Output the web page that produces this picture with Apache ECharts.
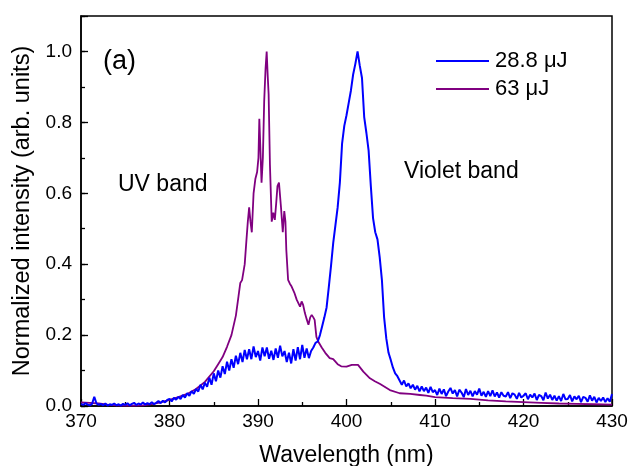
<!DOCTYPE html>
<html>
<head>
<meta charset="utf-8">
<script src="https://cdn.jsdelivr.net/npm/echarts@6/dist/echarts.min.js"></script>
<style>
html,body{margin:0;padding:0;background:#fff;}
#chart{width:631px;height:466px;}
</style>
</head>
<body>
<div id="chart"></div>
<script>
// ---- Data ----
var seriesNames = ['28.8 \u03bcJ', '63 \u03bcJ'];
var xTickLabels = [370, 380, 390, 400, 410, 420, 430];
var yTickLabels = [0.0, 0.2, 0.4, 0.6, 0.8, 1.0];

// 28.8 uJ spectrum, sampled every 0.25 nm from 370 nm
var wl288Start = 370, wl288Step = 0.25;
var int288 = [
  0.006, 0.003, 0.008, 0.004,
  0.002, 0.006, 0.026, 0.007,
  0.003, 0.006, 0.002, 0.007,
  0.001, 0.005, 0.003, 0.007,
  0.002, 0.005, 0.001, 0.006,
  0.003, 0.008, 0.002, 0.006,
  0.009, 0.003, 0.007, 0.004,
  0.010, 0.004, 0.008, 0.005,
  0.011, 0.005, 0.009, 0.014,
  0.008, 0.015, 0.010, 0.017,
  0.020, 0.013, 0.023, 0.018,
  0.026, 0.020, 0.031, 0.024,
  0.036, 0.029, 0.042, 0.034,
  0.048, 0.041, 0.060, 0.047,
  0.066, 0.054, 0.080, 0.060,
  0.092, 0.070, 0.100, 0.080,
  0.112, 0.090, 0.125, 0.100,
  0.132, 0.108, 0.142, 0.118,
  0.150, 0.124, 0.158, 0.132,
  0.160, 0.132, 0.168, 0.138,
  0.155, 0.128, 0.165, 0.140,
  0.165, 0.133, 0.156, 0.130,
  0.162, 0.136, 0.170, 0.140,
  0.155, 0.124, 0.150, 0.120,
  0.160, 0.128, 0.166, 0.132,
  0.172, 0.136, 0.162, 0.135,
  0.155, 0.165, 0.178, 0.182,
  0.200, 0.225, 0.250, 0.278,
  0.335, 0.395, 0.460, 0.510,
  0.560, 0.630, 0.740, 0.790,
  0.820, 0.855, 0.890, 0.935,
  0.965, 1.000, 0.960, 0.925,
  0.815, 0.770, 0.720, 0.620,
  0.530, 0.490, 0.470, 0.420,
  0.356, 0.250, 0.190, 0.150,
  0.130, 0.108, 0.092, 0.084,
  0.072, 0.060, 0.072, 0.055,
  0.064, 0.050, 0.060, 0.046,
  0.057, 0.041, 0.055, 0.042,
  0.052, 0.037, 0.054, 0.039,
  0.045, 0.031, 0.049, 0.034,
  0.047, 0.028, 0.041, 0.051,
  0.035, 0.045, 0.027, 0.046,
  0.038, 0.025, 0.048, 0.031,
  0.043, 0.027, 0.042, 0.032,
  0.049, 0.029, 0.040, 0.026,
  0.042, 0.028, 0.044, 0.027,
  0.038, 0.024, 0.039, 0.029,
  0.027, 0.039, 0.022, 0.036,
  0.032, 0.020, 0.037, 0.024,
  0.029, 0.036, 0.019, 0.032,
  0.024, 0.035, 0.017, 0.031,
  0.028, 0.016, 0.038, 0.021,
  0.032, 0.017, 0.029, 0.015,
  0.028, 0.014, 0.034, 0.019,
  0.020, 0.031, 0.013, 0.027,
  0.019, 0.029, 0.011, 0.026,
  0.023, 0.012, 0.030, 0.015,
  0.026, 0.010, 0.023, 0.014,
  0.024, 0.011, 0.022, 0.012,
  0.034
];

// 63 uJ spectrum (wavelength, intensity)
var wl63 = [370, 371, 372, 373, 374, 375, 376, 377, 378, 379, 380, 381, 382, 383, 384, 385, 385.5, 386, 386.5, 387,
  387.5, 387.8, 388, 388.2, 388.5, 388.7, 388.85, 389.0, 389.15, 389.3, 389.5, 389.7, 389.9, 390.05, 390.15, 390.25,
  390.4, 390.55, 390.7, 390.85, 390.98, 391.1, 391.2, 391.35, 391.55, 391.73, 391.9, 392.05, 392.2, 392.37, 392.6,
  392.8, 392.97, 393.1, 393.2, 393.4, 393.6, 393.8, 394.1, 394.37, 394.75, 394.93, 395.1, 395.3, 395.5, 395.7, 395.9,
  396.07, 396.25, 396.4, 396.6, 396.8, 397.2, 397.6, 398.1, 398.5, 399, 399.4, 400, 400.6, 401.3, 401.9, 402.65,
  403.2, 403.8, 404.9, 406, 407.2, 408.3, 409, 410, 412, 414, 416, 418, 420, 422, 424, 426, 428, 430];
var int63 = [0.010, 0.009, 0.007, 0.004, 0.002, 0.001, 0.001, 0.002, 0.005, 0.010, 0.017, 0.025, 0.034, 0.048, 0.068, 0.098, 0.118, 0.138, 0.167, 0.200,
  0.255, 0.31, 0.347, 0.355, 0.40, 0.47, 0.52, 0.56, 0.52, 0.49, 0.60, 0.64, 0.66, 0.70, 0.81, 0.74,
  0.63, 0.70, 0.86, 0.95, 1.00, 0.93, 0.88, 0.68, 0.52, 0.545, 0.525, 0.57, 0.62, 0.63, 0.56,
  0.49, 0.55, 0.52, 0.44, 0.356, 0.345, 0.337, 0.32, 0.30, 0.28, 0.295, 0.285, 0.262, 0.245, 0.229, 0.25,
  0.257, 0.25, 0.243, 0.195, 0.182, 0.165, 0.15, 0.135, 0.132, 0.118, 0.112, 0.111, 0.116, 0.116, 0.097, 0.078,
  0.070, 0.062, 0.045, 0.036, 0.034, 0.031, 0.029, 0.025, 0.022, 0.020, 0.016, 0.013, 0.011, 0.009, 0.007, 0.006, 0.005, 0.004];

// ---- Build ----
var data288 = int288.map(function (v, i) { return [wl288Start + i * wl288Step, v]; });
var data63 = wl63.map(function (w, i) { return [w, int63[i]]; });

var FONT = '"Liberation Sans", Arial, sans-serif';
var chart = echarts.init(document.getElementById('chart'), null, {renderer: 'canvas'});
chart.setOption({
  animation: false,
  backgroundColor: '#fff',
  grid: {left: 81, right: 19, top: 16, bottom: 60, show: true, borderColor: '#000', borderWidth: 1.5,
    backgroundColor: 'transparent', containLabel: false, outerBoundsMode: 'none'},
  legend: {
    data: seriesNames,
    orient: 'vertical',
    left: 431, top: 45,
    itemWidth: 53, itemHeight: 2, itemGap: 6,
    textStyle: {fontFamily: FONT, fontSize: 22, color: '#000', padding: [0, 0, 0, 1]},
    icon: 'rect'
  },
  xAxis: {
    type: 'value', min: xTickLabels[0], max: xTickLabels[xTickLabels.length - 1], interval: 10,
    name: 'Wavelength (nm)', nameLocation: 'middle', nameGap: 38,
    nameTextStyle: {fontFamily: FONT, fontSize: 23, color: '#000'},
    axisLine: {lineStyle: {color: '#000', width: 1.5}},
    axisTick: {inside: true, length: 7, lineStyle: {color: '#000', width: 1.3}},
    minorTick: {show: true, splitNumber: 2, length: 4, lineStyle: {color: '#000', width: 1.3}},
    axisLabel: {fontFamily: FONT, fontSize: 19, color: '#000', margin: 6},
    splitLine: {show: false}
  },
  yAxis: [{
    type: 'value', position: 'left', min: 0, max: 1.1, interval: 0.2,
    name: 'Normalized intensity (arb. units)', nameLocation: 'middle', nameGap: 45,
    nameTextStyle: {fontFamily: FONT, fontSize: 23.5, color: '#000'},
    axisLine: {lineStyle: {color: '#000', width: 1.5}},
    axisTick: {inside: true, length: 7, lineStyle: {color: '#000', width: 1.3}},
    axisLabel: {fontFamily: FONT, fontSize: 19, color: '#000', margin: 9,
      formatter: function (v) { return v > 1.05 ? '' : v.toFixed(1); }},
    splitLine: {show: false}
  }, {
    type: 'value', position: 'left', min: 0, max: 1.1, interval: 0.1,
    axisLine: {show: false},
    axisTick: {inside: true, length: 4, lineStyle: {color: '#000', width: 1.3}},
    axisLabel: {show: false},
    splitLine: {show: false}
  }],
  series: [{
    name: seriesNames[0], type: 'line', data: data288, showSymbol: false, symbol: 'none',
    yAxisIndex: 0, z: 3,
    lineStyle: {color: '#0000ff', width: 2}, itemStyle: {color: '#0000ff'}
  }, {
    name: seriesNames[1], type: 'line', data: data63, showSymbol: false, symbol: 'none',
    yAxisIndex: 0, z: 2,
    lineStyle: {color: '#800080', width: 1.8}, itemStyle: {color: '#800080'}
  }],
  graphic: [
    {type: 'text', left: 103, top: 48, style: {text: '(a)', fontFamily: FONT, fontSize: 27, fill: '#000'}},
    {type: 'text', left: 118, top: 173, style: {text: 'UV band', fontFamily: FONT, fontSize: 23, fill: '#000'}},
    {type: 'text', left: 404, top: 160, style: {text: 'Violet band', fontFamily: FONT, fontSize: 23, fill: '#000'}}
  ]
});
</script>
</body>
</html>
